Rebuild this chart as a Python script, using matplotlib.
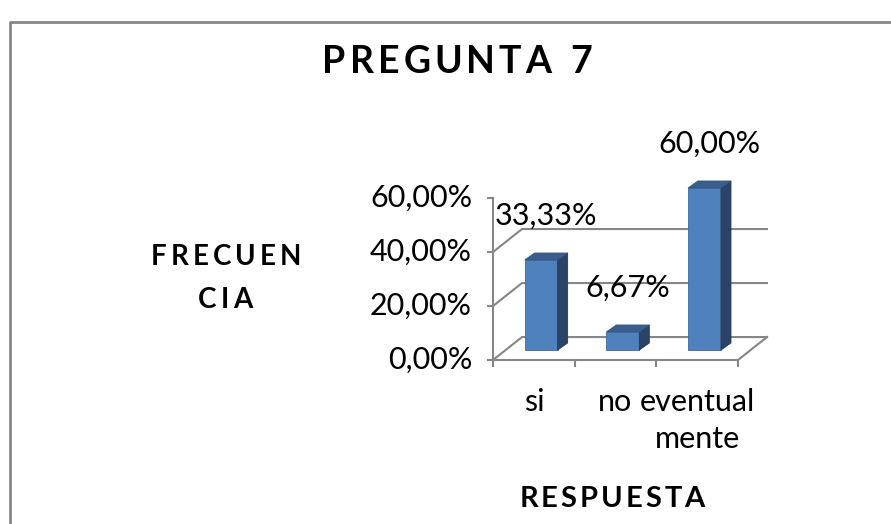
import numpy as np
import matplotlib.pyplot as plt
from matplotlib.patches import Polygon, Rectangle

# datos del grafico
categorias = ['si', 'no', 'eventual\nmente']
valores = [33.33, 6.67, 60.00]
etiquetas_barras = ['33,33%', '6,67%', '60,00%']
ticks_y = [0, 20, 40, 60]
etiquetas_y = ['0,00%', '20,00%', '40,00%', '60,00%']

plt.rcParams['font.family'] = ['Lato', 'DejaVu Sans']

W, H = 891, 524
fig = plt.figure(figsize=(W / 100, H / 100), dpi=100)

# capa en pixeles para marco y titulos
capa = fig.add_axes([0, 0, 1, 1])
capa.set_xlim(0, W)
capa.set_ylim(H, 0)
capa.axis('off')
capa.plot([10, 10, W + 5], [H + 5, 22, 22], color='#868686', lw=2, clip_on=False)

# zona del grafico (plano frontal)
ax = fig.add_axes([493 / W, 1 - 360 / H, 245 / W, 162 / H])
ax.set_xlim(0, 3)
ax.set_ylim(0, 60)
ax.axis('off')

gris = '#868686'
px, py = 0.355, 8.5  # profundidad
for v in ticks_y[:-1]:
    ax.plot([0, px, 3 + px], [v, v + py, v + py], color=gris, lw=1.5, clip_on=False)
ax.plot([0, 3, 3 + px], [0, 0, py], color=gris, lw=1.5, clip_on=False)
ax.plot([0, 0], [0, 60], color=gris, lw=1.5, clip_on=False)
for v, lab in zip(ticks_y, etiquetas_y):
    ax.plot([-0.06, 0], [v, v], color=gris, lw=1.5, clip_on=False)
    ax.text(-0.257, v, lab, ha='right', va='center', fontsize=22)
for i in range(len(categorias) + 1):
    ax.plot([i, i], [0, -2.2], color=gris, lw=1.5, clip_on=False)
for i, c in enumerate(categorias):
    ax.text(i + 0.5, -10.4, c, ha='center', va='top', fontsize=22, linespacing=1.4)

# barras 3d
ancho, base, dx, dy = 0.404, 3.7, 0.122, 2.6
for i, (v, lab) in enumerate(zip(valores, etiquetas_barras)):
    c = i + 0.59
    x0, x1 = c - ancho / 2, c + ancho / 2
    ax.add_patch(Rectangle((x0, base), ancho, v, facecolor='#4F81BD',
                           edgecolor='#41699a', lw=0.6, clip_on=False, zorder=3))
    ax.add_patch(Polygon([(x1, base), (x1 + dx, base + dy), (x1 + dx, base + v + dy), (x1, base + v)],
                         facecolor='#2A4366', edgecolor='#243a58', lw=0.6, clip_on=False, zorder=3))
    ax.add_patch(Polygon([(x0, base + v), (x1, base + v), (x1 + dx, base + v + dy), (x0 + dx, base + v + dy)],
                         facecolor='#3A5F8F', edgecolor='#33547f', lw=0.6, clip_on=False, zorder=3))
    ax.annotate(lab, (c + dx / 2, base + v + dy), xytext=(0, 27), textcoords='offset points',
                ha='center', va='center', fontsize=22, annotation_clip=False)


def texto_espaciado(x, y, s, sep, **kw):
    r = fig.canvas.get_renderer()
    anchos = []
    for ch in s:
        t = capa.text(0, 0, 'n' if ch == ' ' else ch, **kw)
        anchos.append(t.get_window_extent(r).width * (0.5 if ch == ' ' else 1))
        t.remove()
    total = sum(anchos) + sep * (len(s) - 1)
    xx = x - total / 2
    for ch, a in zip(s, anchos):
        if ch != ' ':
            capa.text(xx, y, ch, ha='left', va='baseline', **kw)
        xx += a + sep


texto_espaciado(457, 73, 'PREGUNTA 7', 4, fontsize=27, fontweight='bold')
texto_espaciado(226, 265, 'FRECUEN', 4, fontsize=20, fontweight='bold')
texto_espaciado(225, 308, 'CIA', 4, fontsize=20, fontweight='bold')
texto_espaciado(612, 507, 'RESPUESTA', 3, fontsize=21, fontweight='bold')

fig.savefig('out.png', dpi=100)
